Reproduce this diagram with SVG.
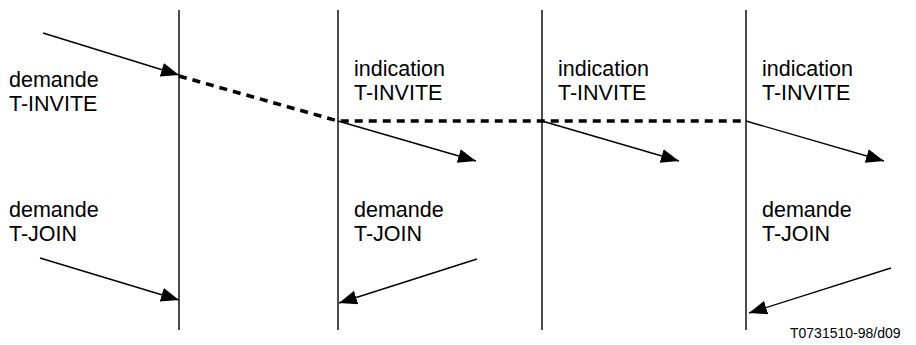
<svg xmlns="http://www.w3.org/2000/svg" width="916" height="345" viewBox="0 0 916 345">
<style>
.life{stroke:#000;stroke-width:1.4;fill:none}
.lbl{font-family:"Liberation Sans",Arial,sans-serif;font-size:21.5px;fill:#000}
.ref{font-family:"Liberation Sans",Arial,sans-serif;font-size:14px;fill:#000}
.arr{stroke:#000;stroke-width:1.4;fill:none;marker-end:url(#ah)}
.dash{stroke:#000;stroke-width:3.6;fill:none;stroke-dasharray:8 6}
</style>
<defs>
<marker id="ah" markerUnits="userSpaceOnUse" markerWidth="20" markerHeight="16" refX="18" refY="7" orient="auto">
<path d="M0,0 L18,7 L0,14 Z" fill="#000"/>
</marker>
</defs>
<rect width="916" height="345" fill="#fff"/>
<g id="node1">
<line class="life" x1="179" y1="10" x2="179" y2="330"/>
<text class="lbl" x="9" y="87">demande</text>
<text class="lbl" x="9" y="111">T-INVITE</text>
<text class="lbl" x="9" y="217">demande</text>
<text class="lbl" x="9" y="241">T-JOIN</text>
</g>
<g id="node2">
<line class="life" x1="338" y1="10" x2="338" y2="330"/>
<text class="lbl" x="354" y="76">indication</text>
<text class="lbl" x="354" y="100">T-INVITE</text>
<text class="lbl" x="354" y="217">demande</text>
<text class="lbl" x="354" y="241">T-JOIN</text>
</g>
<g id="node3">
<line class="life" x1="542" y1="10" x2="542" y2="330"/>
<text class="lbl" x="558" y="76">indication</text>
<text class="lbl" x="558" y="100">T-INVITE</text>
</g>
<g id="node4">
<line class="life" x1="746" y1="10" x2="746" y2="330"/>
<text class="lbl" x="762" y="76">indication</text>
<text class="lbl" x="762" y="100">T-INVITE</text>
<text class="lbl" x="762" y="217">demande</text>
<text class="lbl" x="762" y="241">T-JOIN</text>
</g>
<g id="connectors">
<path class="dash" d="M179,76 L338,121 L746,121"/>
<line class="arr" x1="43" y1="33" x2="179" y2="75"/>
<line class="arr" x1="338" y1="121" x2="476" y2="161"/>
<line class="arr" x1="542" y1="121" x2="679" y2="161"/>
<line class="arr" x1="746" y1="121" x2="884" y2="161"/>
<line class="arr" x1="40" y1="258" x2="179" y2="300"/>
<line class="arr" x1="477" y1="259" x2="339" y2="303"/>
<line class="arr" x1="891" y1="268" x2="749" y2="313"/>
</g>
<text class="ref" x="790" y="338">T0731510-98/d09</text>
</svg>
